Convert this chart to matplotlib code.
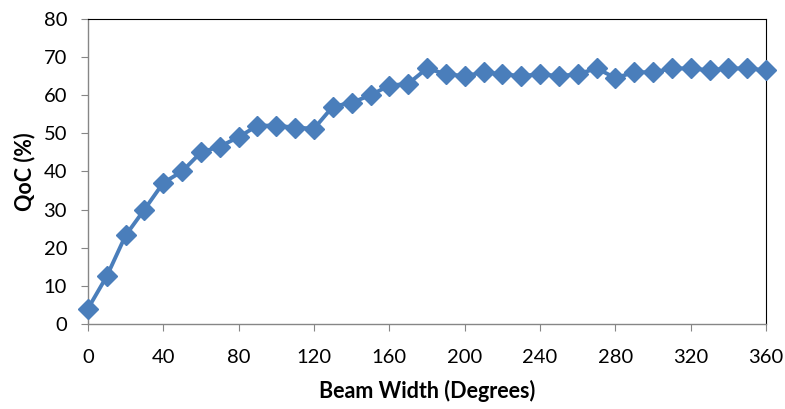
import matplotlib
matplotlib.use("Agg")
import matplotlib.pyplot as plt

beam_width = [0, 10, 20, 30, 40, 50, 60, 70, 80, 90, 100, 110, 120, 130, 140, 150,
              160, 170, 180, 190, 200, 210, 220, 230, 240, 250, 260, 270, 280, 290,
              300, 310, 320, 330, 340, 350, 360]
qoc = [4, 12.5, 23.2, 30, 37, 40, 45, 46.5, 49, 52, 52, 51.5, 51.2, 57, 58, 60,
       62.5, 63, 67, 65.5, 65, 66, 65.5, 65, 65.5, 65, 65.5, 67, 64.5, 66,
       66, 67, 67, 66.5, 67, 67, 66.5]
x_ticks = [0, 40, 80, 120, 160, 200, 240, 280, 320, 360]
y_ticks = [0, 10, 20, 30, 40, 50, 60, 70, 80]

plt.rcParams["font.family"] = ["Lato", "DejaVu Sans"]

fig = plt.figure(figsize=(7.85, 4.09), dpi=100)
ax = fig.add_axes([0.112, 0.208, 0.864, 0.746])

color = "#4A7EBB"
ax.plot(beam_width, qoc, color=color, linewidth=2.8, marker="D", markersize=10,
        markerfacecolor=color, markeredgecolor=color, clip_on=False, zorder=3)

ax.set_xlim(0, 360)
ax.set_ylim(0, 80)
ax.set_xticks(x_ticks)
ax.set_yticks(y_ticks)
ax.tick_params(axis="both", labelsize=14.5, labelcolor="#000000", color="#868686",
               length=5, width=0.8, direction="out")
ax.tick_params(axis="x", pad=13)
ax.tick_params(axis="y", pad=10)

for side in ("left", "bottom"):
    ax.spines[side].set_color("#868686")
    ax.spines[side].set_linewidth(1.0)
for side in ("top", "right"):
    ax.spines[side].set_color("#000000")
    ax.spines[side].set_linewidth(0.8)

ax.set_xlabel("Beam Width (Degrees)", fontsize=15.5, fontweight="bold", labelpad=10)
ax.set_ylabel("QoC (%)", fontsize=15.5, fontweight="bold", labelpad=6)

fig.savefig("out.png", dpi=100, facecolor="white")
